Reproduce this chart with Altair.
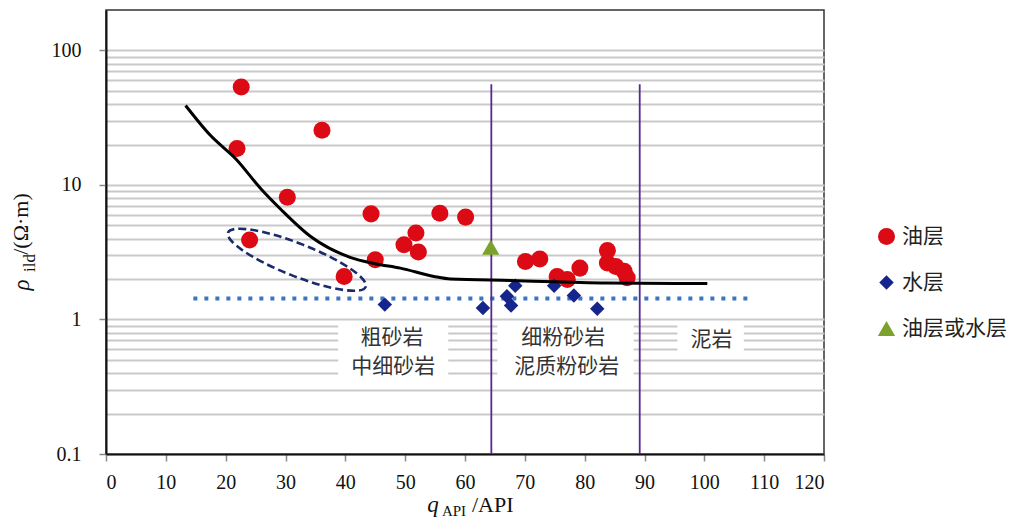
import altair as alt
import pandas as pd

# ---------------- data ----------------
categories = ["油层", "水层", "油层或水层"]

oil_x = [22.6, 21.9, 36.1, 30.3, 24.0, 39.8, 44.3, 45.0, 55.8, 60.1, 51.8, 49.8, 52.2,
         70.1, 72.5, 75.4, 77.1, 79.2, 83.8, 83.8, 85.2, 86.6, 87.1]
oil_y = [53.5, 18.7, 25.5, 8.1, 3.9, 2.09, 6.1, 2.78, 6.17, 5.77, 4.39, 3.59, 3.17,
         2.70, 2.82, 2.09, 1.98, 2.41, 3.26, 2.63, 2.48, 2.28, 2.04]

water_x = [46.6, 63.0, 67.0, 67.7, 68.4, 74.9, 78.2, 82.1]
water_y = [1.29, 1.22, 1.49, 1.27, 1.78, 1.78, 1.51, 1.20]

mixed_x = [64.3]
mixed_y = [3.45]

curve_x = [13.3, 17.4, 21.9, 25.8, 29.2, 34.2, 40.8, 45.0, 49.2, 54.8, 57.6, 67.6, 83.7, 100.5]
curve_y = [39.0, 23.5, 15.3, 9.45, 6.6, 4.14, 2.9, 2.6, 2.41, 2.09, 2.0, 1.95, 1.87, 1.85]

cutoff_x = [14.6, 107.2]
cutoff_y = [1.43]

boundary_x = [64.4, 89.2]
boundary_y = [0.1, 56.0]

zone_text = ["粗砂岩", "中细砂岩", "细粉砂岩", "泥质粉砂岩", "泥岩"]
zone_x = [47.8, 48.0, 76.4, 77.0, 101.2]
zone_y = [0.723, 0.441, 0.723, 0.441, 0.71]

box_x1 = [38.8, 65.4, 95.5]
box_x2 = [57.2, 88.2, 106.6]
box_y1 = [0.35, 0.35, 0.55]
box_y2 = [0.95, 0.95, 0.95]

ellipse_x = [31.9]
ellipse_y = [2.78]

x_ticks = [0, 10, 20, 30, 40, 50, 60, 70, 80, 90, 100, 110, 120]
y_grid = [0.1, 0.2, 0.3, 0.4, 0.5, 0.6, 0.7, 0.8, 0.9,
          1, 2, 3, 4, 5, 6, 7, 8, 9,
          10, 20, 30, 40, 50, 60, 70, 80, 90, 100]
y_labels = [0.1, 1, 10, 100]

colors = ["#dc0a14", "#15258c", "#7aa22c"]
shapes = ["circle", "diamond", "triangle-up"]
sizes = [290, 210, 300]

# ---------------- tables ----------------
pts = pd.DataFrame({
    "q": oil_x + water_x + mixed_x,
    "rho": oil_y + water_y + mixed_y,
    "类别": [categories[0]] * len(oil_x) + [categories[1]] * len(water_x) + [categories[2]] * len(mixed_x),
})
curve = pd.DataFrame({"q": curve_x, "rho": curve_y})
cutoff = pd.DataFrame({"q": [cutoff_x[0]], "q2": [cutoff_x[1]], "rho": cutoff_y})
bounds = pd.DataFrame({"q": boundary_x, "r1": [boundary_y[0]] * 2, "r2": [boundary_y[1]] * 2})
zones = pd.DataFrame({"t": zone_text, "q": zone_x, "rho": zone_y})
boxes = pd.DataFrame({"q": box_x1, "x2": box_x2, "rho": box_y1, "y2": box_y2})
ell = pd.DataFrame({"q": ellipse_x, "rho": ellipse_y})

xs = alt.Scale(domain=[0, 120], nice=False, zero=False)
ys = alt.Scale(type="log", domain=[0.1, 200], nice=False)

decade_test = "indexof([0.1,1,10,100], datum.value) >= 0"

x_axis = alt.Axis(values=x_ticks, title=None, grid=False,
                  labelFont="Liberation Serif", labelFontSize=20, labelColor="#111",
                  tickColor="#888", tickSize=7, tickWidth=1.5, labelPadding=11,
                  domainColor="#111", domainWidth=2)
y_axis = alt.Axis(values=y_grid, title=None, grid=True, gridColor="#c9c9c9", gridWidth=1.9,
                  labelExpr=f"({decade_test}) ? format(datum.value, '~g') : ''",
                  labelFont="Liberation Serif", labelFontSize=20, labelColor="#111",
                  tickColor="#888", tickSize=7, tickWidth=1.5, labelPadding=18,
                  tickOpacity={"condition": {"test": decade_test, "value": 1}, "value": 0},
                  domainColor="#111", domainWidth=2)

X = alt.X("q:Q", scale=xs, axis=x_axis)
Y = alt.Y("rho:Q", scale=ys, axis=y_axis)

leg = alt.Legend(orient="none", legendX=770, legendY=216, title=None,
                 labelFont="Noto Sans CJK SC", labelFontSize=21, labelColor="#222",
                 rowPadding=24, labelOffset=5, padding=0, symbolStrokeWidth=0,
                 symbolOpacity=1)

# ---------------- layers ----------------
box_layer = alt.Chart(boxes).mark_rect(fill="white", stroke=None).encode(
    x=X, x2="x2:Q", y=Y, y2="y2:Q")

zone_layer = alt.Chart(zones).mark_text(font="Noto Sans CJK SC", fontSize=21, color="#333",
                                        align="center", baseline="middle").encode(
    x=X, y=Y, text="t:N")

cut_layer = alt.Chart(cutoff).mark_rule(color="#3b74c3", strokeWidth=4, strokeDash=[4, 7]).encode(
    x=X, x2="q2:Q", y=Y)

bound_layer = alt.Chart(bounds).mark_rule(color="#5a2793", strokeWidth=1.8).encode(
    x=X, y=alt.Y("r1:Q", scale=ys, axis=y_axis), y2="r2:Q")

pt_layer = alt.Chart(pts).mark_point(filled=True, opacity=1).encode(
    x=X, y=Y,
    color=alt.Color("类别:N", scale=alt.Scale(domain=categories, range=colors), legend=leg),
    shape=alt.Shape("类别:N", scale=alt.Scale(domain=categories, range=shapes), legend=leg),
    size=alt.Size("类别:N", scale=alt.Scale(type="ordinal", domain=categories, range=sizes), legend=leg),
)

ellipse_path = ("M 0.930 0.366 A 1 0.22 21.5 0 1 -0.0805 0.2046 "
                "A 1 0.22 21.5 0 1 -0.930 -0.366 "
                "A 1 0.22 21.5 0 1 0.0805 -0.2046 "
                "A 1 0.22 21.5 0 1 0.930 0.366 Z")
ell_layer = alt.Chart(ell).mark_point(shape=ellipse_path, size=21904, filled=False,
                                      color="#1a2b6d", strokeWidth=2.6, strokeDash=[8, 4],
                                      opacity=1).encode(x=X, y=Y)

curve_layer = alt.Chart(curve).mark_line(color="#000", strokeWidth=3, interpolate="monotone").encode(
    x=X, y=Y)


def label(txt, x, y, size, angle=0, style="normal", align="center", baseline="alphabetic"):
    kw = dict(font="Liberation Serif", fontSize=size, color="#111", fontStyle=style,
              align=align, baseline=baseline)
    if angle:
        kw["angle"] = angle
    return alt.Chart(pd.DataFrame({"t": [txt]})).mark_text(**kw).encode(
        text="t:N", x=alt.value(x), y=alt.value(y))


titles = [
    label("q", 327, 502, 23, style="italic"),
    label("API", 348, 506, 15),
    label("/API", 366, 502, 22, align="left"),
    label("ρ", -77, 275, 23, angle=270, style="italic"),
    label("ild", -71, 253, 17, angle=270),
    label("/(Ω·m)", -78, 214, 22, angle=270),
]

chart = alt.layer(box_layer, zone_layer, cut_layer, bound_layer, pt_layer, ell_layer,
                  curve_layer, *titles).properties(
    width=718, height=444,
    autosize=alt.AutoSizeParams(type="none"),
    padding={"left": 98, "top": 2, "right": 184, "bottom": 70},
    background="white",
).configure_view(stroke="#333", strokeWidth=1.5)

chart.save("out.html", embed_options={"renderer": "svg", "actions": False})
